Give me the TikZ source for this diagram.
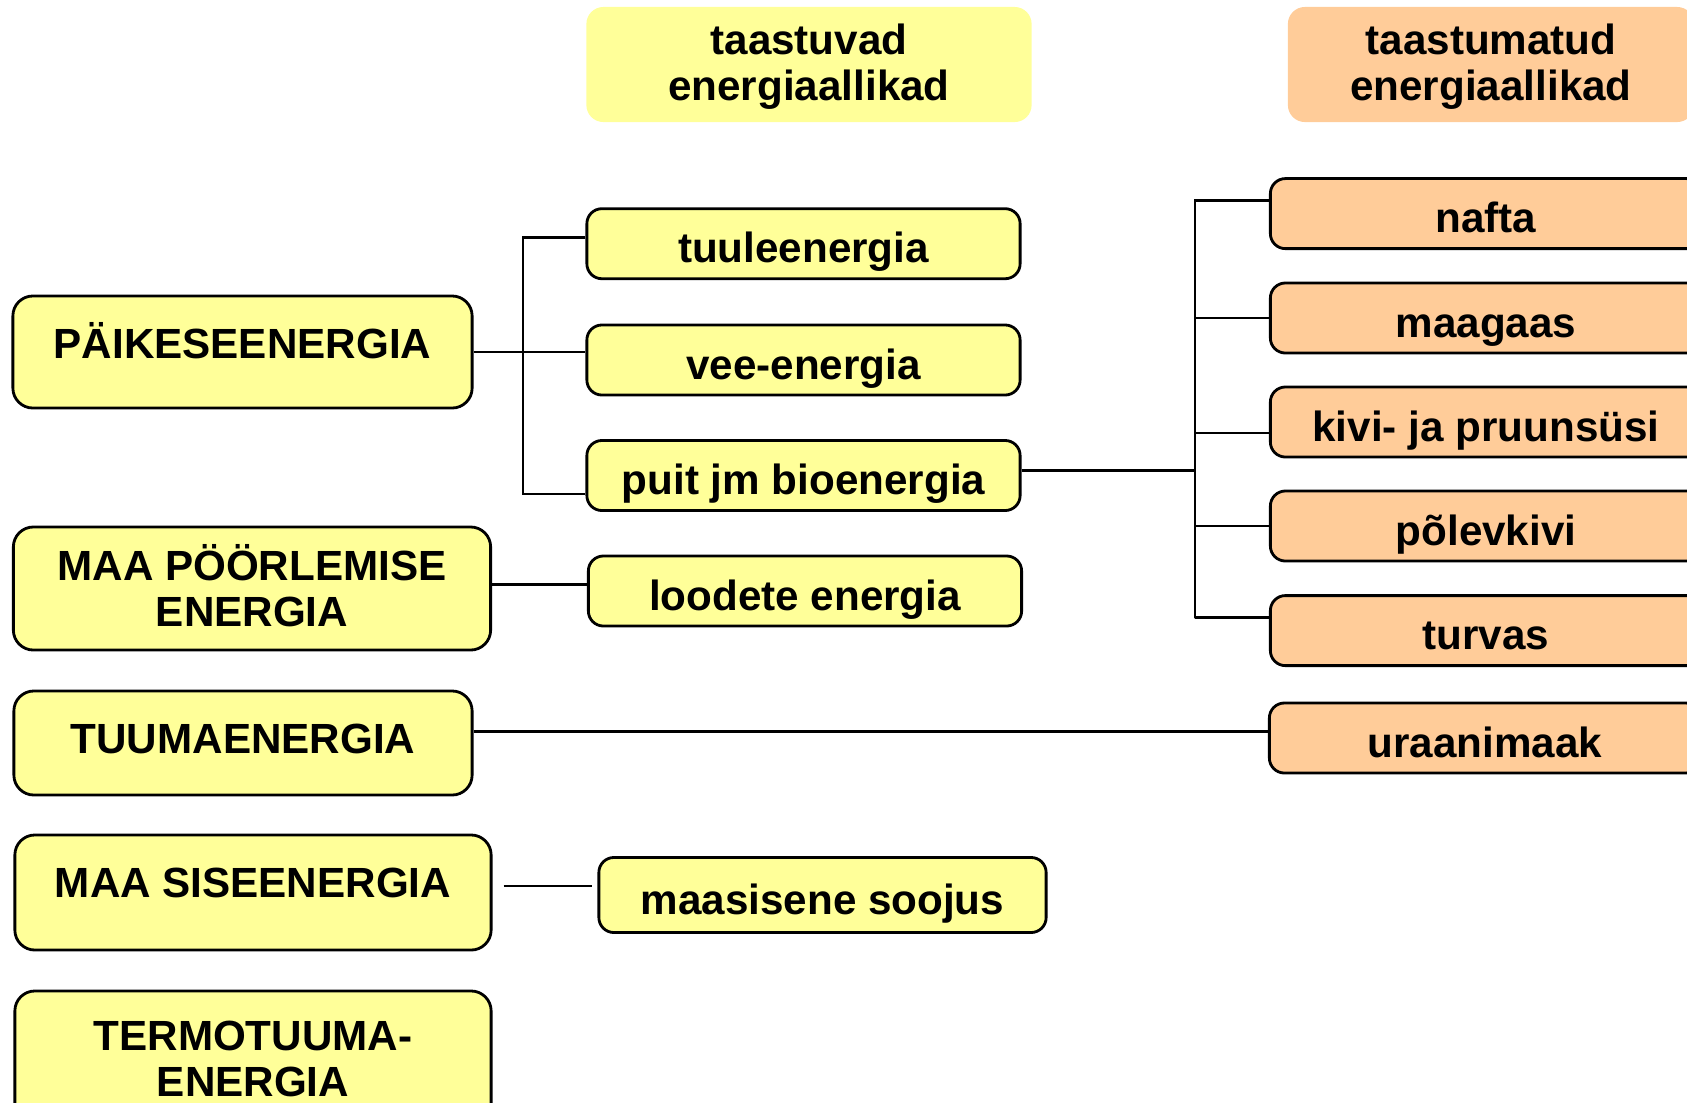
\documentclass[tikz,border=0pt]{standalone}
\usepackage{fontspec}
\setmainfont{Liberation Sans}
\usepackage{tikz}
\usetikzlibrary{positioning}
\usetikzlibrary{calc}
\definecolor{lightyellow}{RGB}{255,255,153}
\definecolor{peach}{RGB}{255,204,153}

\begin{document}
\begin{tikzpicture}[x=0.01cm,y=-0.01cm,font=\fontsize{12}{13}\selectfont\bfseries]
	\useasboundingbox (0,0) rectangle (1687,1102);
	\clip (0,0) rectangle (1687,1102);

	% headers
	\begin{scope}[every node/.style={rounded corners=0.17cm, align=center, inner sep=0pt, minimum height=1.15cm, text depth=0.04cm}]
	    \node[fill=lightyellow, minimum width=4.45cm] (renew) at (809,64.5) {taastuvad\\energiaallikad};
	    \node[fill=peach, minimum width=4.06cm] (nonrenew) at (1491,64.5) {taastumatud\\energiaallikad};
	\end{scope}

	% primary sources
	\begin{scope}[every node/.style={fill=lightyellow, draw, line width=0.8pt, rounded corners=0.2cm, align=center, inner sep=0pt}]
	    \node[minimum width=4.59cm, minimum height=1.12cm, text depth=0.24cm] (sun) at (242.5,352) {PÄIKESEENERGIA};
	    \node[minimum width=4.77cm, minimum height=1.23cm, text depth=0.06cm] (rotation) at (252,588.5) {MAA PÖÖRLEMISE\\ENERGIA};
	    \node[minimum width=4.58cm, minimum height=1.04cm, text depth=0.08cm] (nuclear) at (243,743) {TUUMAENERGIA};
	    \node[minimum width=4.76cm, minimum height=1.15cm, text depth=0.2cm] (inner) at (253,892.5) {MAA SISEENERGIA};
	    \node[minimum width=4.76cm, minimum height=1.36cm] (fusion) at (253,1059) {TERMOTUUMA-\\ENERGIA};
	\end{scope}

	% renewable
	\begin{scope}[every node/.style={fill=lightyellow, draw, line width=0.8pt, rounded corners=0.15cm, inner sep=0pt, minimum width=4.33cm, minimum height=0.70cm, text height=0.38cm, text depth=0cm}]
	    \node (wind) at (803.5,243.7) {tuuleenergia};
	    \node (water) at (803.5,360) {vee-energia};
	    \node (bio) at (803.5,475.5) {puit jm bioenergia};
	    \node (tidal) at (805,591) {loodete energia};
	    \node[minimum width=4.47cm, minimum height=0.75cm] (heat) at (822.5,895) {maasisene soojus};
	\end{scope}

	% non-renewable
	\begin{scope}[every node/.style={fill=peach, draw, line width=0.8pt, rounded corners=0.15cm, inner sep=0pt, minimum width=4.31cm, minimum height=0.70cm, text height=0.38cm, text depth=0cm}]
	    \node (oil) at (1486,213.6) {nafta};
	    \node (gas) at (1486,318) {maagaas};
	    \node (coal) at (1486,422) {kivi- ja pruunsüsi};
	    \node (shale) at (1486,526) {põlevkivi};
	    \node (peat) at (1486,630.6) {turvas};
	    \node (uranium) at (1485,738) {uraanimaak};
	\end{scope}

	\coordinate (lspine) at (523,494);
	\coordinate (rspine) at (1195,618);

	\begin{scope}[line width=0.75pt]
	    \draw (sun.east) -- (sun.east -| water.west);
	    \draw ([yshift=0.06cm]wind.west) -| (lspine) |- ([yshift=-0.185cm]bio.west);
	    \draw ([yshift=0.05cm]bio.east) -- ([yshift=0.05cm]bio.east -| rspine);
	    \draw ([yshift=0.13cm]oil.west) -| (rspine) |- ([yshift=0.13cm]peat.west);
	    \draw (gas.west) -- (gas.west -| rspine);
	    \draw ([yshift=-0.11cm]coal.west) -- ([yshift=-0.11cm]coal.west -| rspine);
	    \draw (shale.west) -- (shale.west -| rspine);
	    \draw ([yshift=0.04cm]rotation.east) -- ([yshift=0.04cm]rotation.east -| tidal.west);
	    \draw ([yshift=0.115cm]nuclear.east) -- ([yshift=0.115cm]nuclear.east -| uranium.west);
	    \draw ([xshift=0.11cm,yshift=0.065cm]inner.east) -- ([xshift=-0.05cm,yshift=0.065cm]inner.east -| heat.west);
	\end{scope}
\end{tikzpicture}
\end{document}
